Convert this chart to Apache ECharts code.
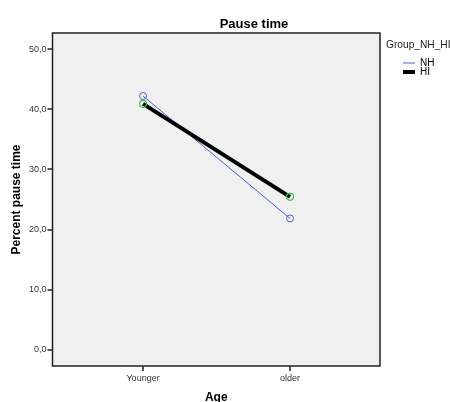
<!DOCTYPE html>
<html><head><meta charset="utf-8">
<script src="https://cdn.jsdelivr.net/npm/echarts@6/dist/echarts.min.js"></script>
<style>html,body{margin:0;padding:0;background:#fff}#c{width:450px;height:402px}</style>
</head><body><div id="c"></div>
<script>
const categories = ['Younger', 'older'];
const nhValues = [42.2, 21.8];
const hiValues = [40.9, 25.4];
const yTicks = [0, 10, 20, 30, 40, 50];

const chart = echarts.init(document.getElementById('c'));
const font = 'Liberation Sans, Arial, sans-serif';
chart.setOption({
  animation: false,
  title: [
    { text: 'Pause time', left: 254, top: 18, textAlign: 'center', padding: 0,
      textStyle: { fontFamily: font, fontSize: 13, fontWeight: 'bold', color: '#000' } },
    { text: 'Group_NH_HI', left: 386, top: 40, padding: 0,
      textStyle: { fontFamily: font, fontSize: 10.2, fontWeight: 'normal', color: '#222', width: 70, overflow: 'none' } }
  ],
  legend: [
    { data: [{ name: 'NH', icon: 'rect', itemStyle: { color: '#4a5fc4', borderWidth: 0 } }],
      left: 403, top: 58, padding: 0, orient: 'vertical',
      itemWidth: 12, itemHeight: 1, itemGap: 4,
      textStyle: { fontFamily: font, fontSize: 10, color: '#000' } },
    { data: [{ name: 'HI', icon: 'rect', itemStyle: { color: '#000', borderWidth: 0 } }],
      left: 403, top: 67, padding: 0, orient: 'vertical',
      itemWidth: 12, itemHeight: 4, itemGap: 4,
      textStyle: { fontFamily: font, fontSize: 10, color: '#000' } }
  ],
  grid: { left: 52.5, right: 70, top: 33, bottom: 36, show: true, outerBoundsMode: 'none', containLabel: false,
    backgroundColor: '#f0f0f0', borderColor: '#222', borderWidth: 1.5 },
  xAxis: {
    type: 'value', min: 0.384, max: 2.612,
    name: 'Age', nameLocation: 'middle', nameGap: 26,
    nameTextStyle: { fontFamily: font, fontSize: 12, fontWeight: 'bold', color: '#000' },
    axisLine: { show: false, onZero: false }, splitLine: { show: false },
    axisTick: { show: true, customValues: [1, 2], length: 5, lineStyle: { color: '#222', width: 1.5 } },
    axisLabel: { customValues: [1, 2], formatter: v => categories[Math.round(v) - 1] || '',
      fontFamily: font, fontSize: 9, color: '#333', margin: 8 }
  },
  yAxis: {
    type: 'value', min: -2.78, max: 52.7,
    name: 'Percent pause time', nameLocation: 'middle', nameGap: 30, nameMoveOverlap: false,
    nameTextStyle: { fontFamily: font, fontSize: 12, fontWeight: 'bold', color: '#000' },
    axisLine: { show: false, onZero: false }, splitLine: { show: false },
    axisTick: { show: true, customValues: yTicks, length: 5, lineStyle: { color: '#222', width: 1.5 } },
    axisLabel: { customValues: yTicks, formatter: v => v.toFixed(1).replace('.', ','),
      fontFamily: font, fontSize: 9, color: '#333', margin: 6 }
  },
  series: [
    { name: 'NH', type: 'line', data: nhValues.map((v, i) => [i + 1, v]),
      symbol: 'circle', symbolSize: 7, color: '#4a5fc4',
      lineStyle: { width: 1, color: '#4a5fc4' },
      itemStyle: { color: 'transparent', borderColor: '#5566c8', borderWidth: 1 } },
    { name: 'HI', type: 'line', data: hiValues.map((v, i) => [i + 1, v]),
      symbol: 'circle', symbolSize: 7, color: '#000',
      lineStyle: { width: 4, color: '#000' },
      itemStyle: { color: 'transparent', borderColor: '#3cc447', borderWidth: 1.2 }, z: 3 }
  ]
});
</script></body></html>
